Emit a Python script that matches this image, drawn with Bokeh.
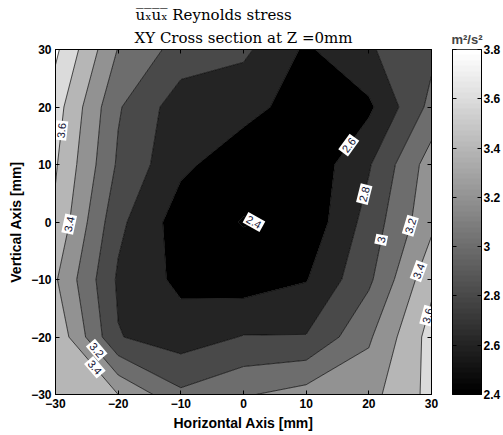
import numpy as np
import contourpy
from bokeh.plotting import figure
from bokeh.layouts import row
from bokeh.models import (Range1d, LinearAxis, FixedTicker, Title,
                          LinearColorMapper, ColumnDataSource)
from bokeh.core.properties import value
from bokeh.embed import file_html
from bokeh.resources import INLINE

# Measurement grid [mm]
x_mm = [-30, -20, -10, 0, 10, 20, 30]
y_mm = [-30, -20, -10, 0, 10, 20, 30]

# u_x u_x Reynolds stress [m^2/s^2], one list per row of constant Y (bottom to top)
uu_y_m30 = [3.55, 3.40, 3.04, 3.18, 3.28, 3.33, 3.66]
uu_y_m20 = [3.56, 2.81, 2.70, 2.81, 2.81, 3.17, 3.68]
uu_y_m10 = [3.42, 2.77, 2.55, 2.50, 2.59, 2.96, 3.55]
uu_y_0 = [3.56, 2.85, 2.50, 2.39, 2.45, 2.88, 3.35]
uu_y_p10 = [3.62, 2.97, 2.64, 2.49, 2.45, 2.78, 3.30]
uu_y_p20 = [3.69, 3.02, 2.69, 2.66, 2.52, 2.56, 3.06]
uu_y_p30 = [3.84, 3.19, 2.92, 2.84, 2.57, 2.78, 2.95]

contour_levels = [2.4, 2.6, 2.8, 3.0, 3.2, 3.4, 3.6, 3.8]
color_limits = [2.4, 3.8]
axis_ticks = [-30, -20, -10, 0, 10, 20, 30]
cbar_ticks = [2.4, 2.6, 2.8, 3.0, 3.2, 3.4, 3.6, 3.8]

# inline contour labels: level and rough location [mm]; snapped onto the line below
label_level = [3.6, 3.4, 3.2, 3.4, 2.4, 2.6, 2.8, 3.0, 3.2, 3.4, 3.6]
label_x = [-28.9, -28.1, -23.9, -24.7, 2.4, 16.4, 18.7, 21.1, 25.5, 27.6, 28.4]
label_y = [15.9, -0.3, -22.7, -26.2, 0.1, 13.7, 5.0, -2.9, -0.3, -8.4, -16.0]

# ---------------------------------------------------------------- layout
W_MAIN, H = 440, 435
B_LEFT, B_RIGHT, B_TOP, B_BOTTOM = 55, 9, 49, 41
FRAME_W = W_MAIN - B_LEFT - B_RIGHT
FRAME_H = H - B_TOP - B_BOTTOM

TICK_FONT = "Liberation Sans"
TITLE_FONT = "DejaVu Serif"
N_MAP = 64  # gray colormap with 64 entries


def gray_of(v):
    f = (v - color_limits[0]) / (color_limits[1] - color_limits[0])
    idx = min(max(int(np.floor(f * N_MAP + 1e-9)), 0), N_MAP - 1)
    g = int(round(idx / (N_MAP - 1) * 255))
    return "#%02x%02x%02x" % (g, g, g)


gray_palette = []
for i in range(N_MAP):
    g = int(round(i / (N_MAP - 1) * 255))
    gray_palette.append("#%02x%02x%02x" % (g, g, g))

xs = np.asarray(x_mm, dtype=float)
ys = np.asarray(y_mm, dtype=float)
Z = np.array([uu_y_m30, uu_y_m20, uu_y_m10, uu_y_0, uu_y_p10, uu_y_p20, uu_y_p30])

fill_levels = [min(Z.min(), contour_levels[0]) - 0.05] + contour_levels + \
    [max(Z.max(), contour_levels[-1]) + 0.05]
fill_colors = [gray_of(l) for l in fill_levels[:-1]]

p = figure(width=W_MAIN, height=H, x_range=Range1d(-30, 30), y_range=Range1d(-30, 30),
           output_backend="svg", toolbar_location=None,
           min_border_left=B_LEFT, min_border_right=B_RIGHT,
           min_border_top=B_TOP, min_border_bottom=B_BOTTOM)
p.background_fill_color = "white"
p.border_fill_color = "white"
p.outline_line_color = "black"
p.outline_line_width = 1
p.xgrid.visible = False
p.ygrid.visible = False

p.contour(x=xs, y=ys, z=Z, levels=fill_levels, fill_color=fill_colors,
          line_color="black", line_width=0.7)

# ---------------------------------------------------------------- contour labels
gen = contourpy.contour_generator(xs, ys, Z)
sx = FRAME_W / 60.0
sy = FRAME_H / 60.0
lab = dict(x=[], y=[], text=[], angle=[])
for lev, hx, hy in zip(label_level, label_x, label_y):
    best = None
    for line in gen.lines(lev):
        pts = np.asarray(line)
        for a, b in zip(pts[:-1], pts[1:]):
            ax_, ay_ = a[0] * sx, a[1] * sy
            bx_, by_ = b[0] * sx, b[1] * sy
            hx_, hy_ = hx * sx, hy * sy
            dx, dy = bx_ - ax_, by_ - ay_
            L2 = dx * dx + dy * dy
            t = 0.0 if L2 == 0 else min(max(((hx_ - ax_) * dx + (hy_ - ay_) * dy) / L2, 0.0), 1.0)
            qx, qy = ax_ + t * dx, ay_ + t * dy
            d = (qx - hx_) ** 2 + (qy - hy_) ** 2
            if best is None or d < best[0]:
                ang = np.arctan2(dy, dx)
                if ang > np.pi / 2:
                    ang -= np.pi
                elif ang <= -np.pi / 2:
                    ang += np.pi
                best = (d, qx / sx, qy / sy, ang)
    if best is None:
        continue
    lab["x"].append(best[1])
    lab["y"].append(best[2])
    lab["text"].append("%g" % lev)
    lab["angle"].append(best[3])

p.text(x="x", y="y", text="text", angle="angle", source=ColumnDataSource(lab),
       text_font=value("Liberation Sans"), text_font_size="11px",
       text_align="center", text_baseline="middle", text_color="#111133",
       background_fill_color="white", padding=2)

# ---------------------------------------------------------------- axes
for ax in (p.xaxis[0], p.yaxis[0]):
    ax.ticker = FixedTicker(ticks=axis_ticks)
    ax.major_tick_in = 4
    ax.major_tick_out = 0
    ax.minor_tick_in = 0
    ax.minor_tick_out = 0
    ax.axis_line_color = "black"
    ax.major_tick_line_color = "black"
    ax.major_label_text_font = TICK_FONT
    ax.major_label_text_font_size = "12px"
    ax.major_label_text_font_style = "bold"
    ax.major_label_text_color = "black"
    ax.major_label_standoff = 4
    ax.axis_label_text_font = TICK_FONT
    ax.axis_label_text_font_size = "14px"
    ax.axis_label_text_font_style = "bold"
    ax.axis_label_text_color = "black"
    ax.axis_label_standoff = 4
p.xaxis.axis_label = "Horizontal Axis [mm]"
p.yaxis.axis_label = "Vertical Axis [mm]"

# tick marks only on the top and right edges of the box
for loc in ("above", "right"):
    box_ax = LinearAxis(ticker=FixedTicker(ticks=axis_ticks), major_tick_in=4,
                        major_tick_out=0, minor_tick_in=0, minor_tick_out=0,
                        major_label_text_font_size="0px", major_label_text_color=None,
                        major_label_standoff=0, axis_line_color="black")
    p.add_layout(box_ax, loc)

# two-line title, closest line added first
p.add_layout(Title(text="XY Cross section at Z =0mm", align="center",
                   text_font=TITLE_FONT, text_font_size="15px",
                   text_font_style="normal", text_color="black", standoff=6), "above")
p.add_layout(Title(text="u\u0305\u2093\u0305u\u0305\u2093\u0305 Reynolds stress", align="left",
                   offset=80, text_font=TITLE_FONT, text_font_size="15px",
                   text_font_style="normal", text_color="black", standoff=0), "above")

# ---------------------------------------------------------------- colour bar
W_CB = 503 - W_MAIN
cb = figure(width=W_CB, height=H, x_range=Range1d(0, 1), y_range=Range1d(*color_limits),
            output_backend="svg", toolbar_location=None, y_axis_location="right",
            min_border_left=12, min_border_right=20,
            min_border_top=B_TOP, min_border_bottom=B_BOTTOM - 1)
cb.background_fill_color = "white"
cb.border_fill_color = "white"
cb.outline_line_color = "black"
cb.xaxis.visible = False
cb.xgrid.visible = False
cb.ygrid.visible = False

mapper = LinearColorMapper(palette=gray_palette, low=-0.5, high=N_MAP - 0.5)
cb.image(image=[np.arange(N_MAP).reshape(N_MAP, 1)], x=0, y=color_limits[0], dw=1,
         dh=color_limits[1] - color_limits[0], color_mapper=mapper)

cax = cb.yaxis[0]
cax.ticker = FixedTicker(ticks=cbar_ticks)
cax.major_tick_in = 4
cax.major_tick_out = 0
cax.minor_tick_in = 0
cax.minor_tick_out = 0
cax.axis_line_color = "black"
cax.major_label_text_font = TICK_FONT
cax.major_label_text_font_size = "12px"
cax.major_label_text_font_style = "bold"
cax.major_label_text_color = "black"
cax.major_label_standoff = 2

left_ax = LinearAxis(ticker=FixedTicker(ticks=cbar_ticks), major_tick_in=4,
                     major_tick_out=0, minor_tick_in=0, minor_tick_out=0,
                     major_label_text_font_size="0px", major_label_text_color=None,
                     major_label_standoff=0, axis_line_color="black")
cb.add_layout(left_ax, "left")

cb.title.text = "m\u00b2/s\u00b2"
cb.title.align = "center"
cb.title.text_font = TICK_FONT
cb.title.text_font_size = "13px"
cb.title.text_font_style = "bold"
cb.title.standoff = 5

layout = row(p, cb)
open("out.html", "w").write(file_html(layout, INLINE))
